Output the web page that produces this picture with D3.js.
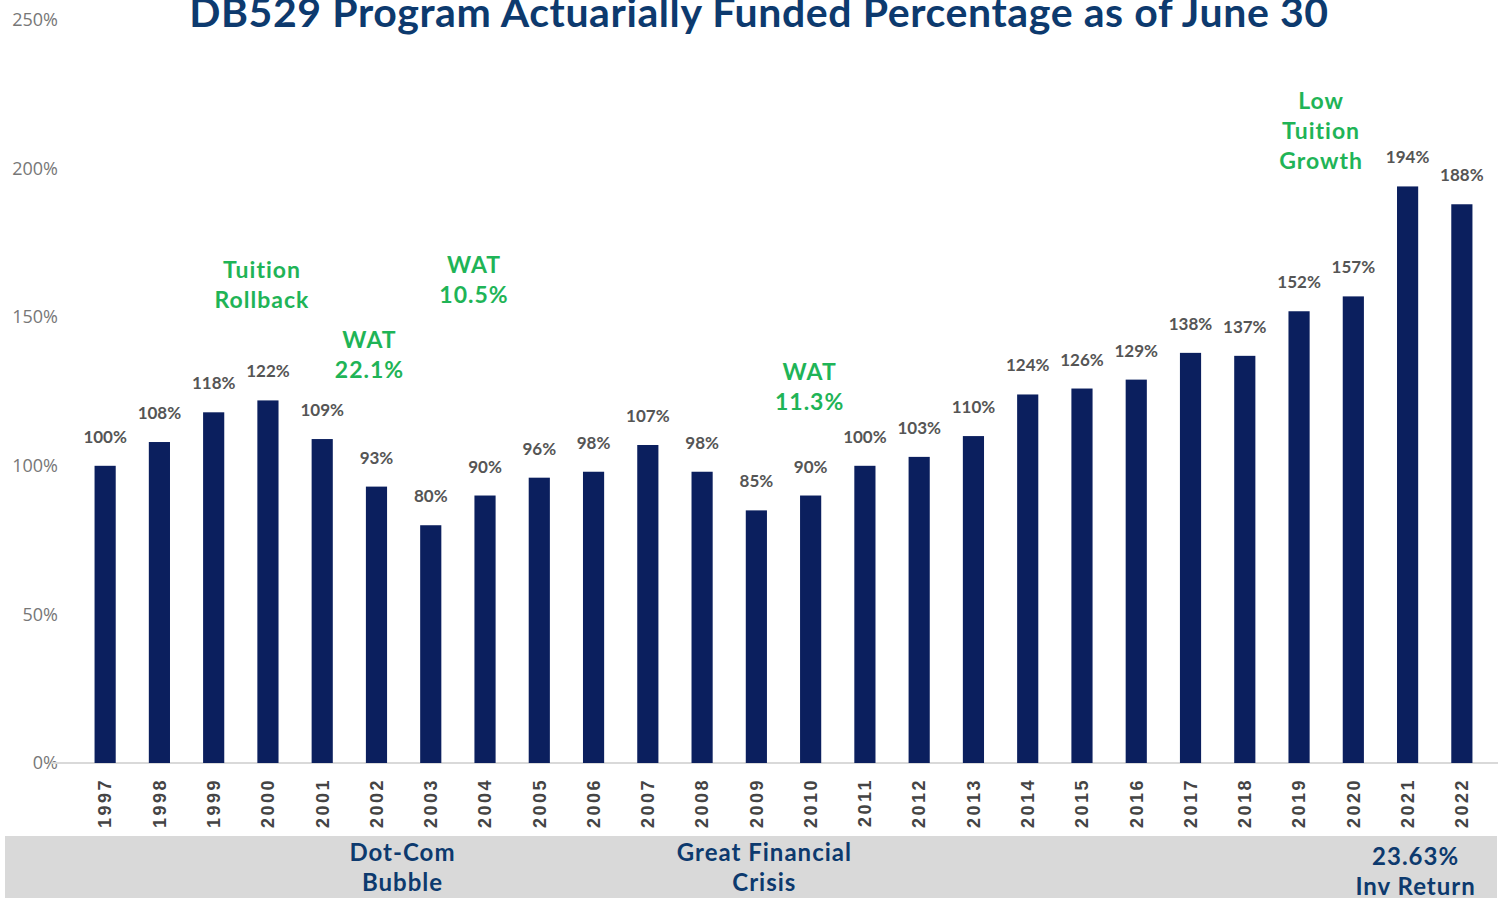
<!DOCTYPE html>
<html>
<head>
<meta charset="utf-8">
<script src="https://cdn.jsdelivr.net/npm/d3@7"></script>
<style>
  html, body { margin: 0; padding: 0; background: #fff; }
  svg { display: block; font-family: Lato, "Open Sans", sans-serif; }
</style>
</head>
<body>
<svg width="1510" height="898"></svg>
<script>
const years = ["1997","1998","1999","2000","2001","2002","2003","2004","2005","2006","2007","2008","2009",
    "2010","2011","2012","2013","2014","2015","2016","2017","2018","2019","2020","2021","2022"];
const funded = [100,108,118,122,109,93,80,90,96,98,107,98,85,90,100,103,110,124,126,129,138,137,152,157,194,188];
const yTicks = [0, 50, 100, 150, 200, 250];

// green notes above the bars, and event notes in the grey band
const notes = [
    { lines: ["Tuition", "Rollback"], year: "2000" },
    { lines: ["WAT", "22.1%"], year: "2002" },
    { lines: ["WAT", "10.5%"], year: "2004" },
    { lines: ["WAT", "11.3%"], year: "2010" },
    { lines: ["Low", "Tuition", "Growth"], year: "2019" }
];
const events = [
    { lines: ["Dot-Com", "Bubble"], year: "2002" },
    { lines: ["Great Financial", "Crisis"], year: "2009" },
    { lines: ["23.63%", "Inv Return"], year: "2021" }
];

const svg = d3.select("svg");
const navy = "#0b1f5e", green = "#1fb457", titleBlue = "#0d3a6e";

const x = d3.scaleBand()
    .domain(years)
    .range([78, 1489])
    .paddingInner(0.61)
    .paddingOuter(0.305);

const y = d3.scaleLinear()
    .domain([0, 250])
    .range([763, 20]);

// title (top edge clipped like the source)
svg.append("text")
    .attr("x", 759)
    .attr("y", 27)
    .attr("text-anchor", "middle")
    .style("font-size", "41px")
    .style("font-weight", "bold")
    .style("letter-spacing", "0.6px")
    .style("fill", titleBlue)
    .text("DB529 Program Actuarially Funded Percentage as of June 30");

// y axis labels
const yAxis = svg.append("g")
    .attr("transform", "translate(58,0)")
    .call(d3.axisLeft(y).tickValues(yTicks).tickFormat(d => d + "%").tickSize(0).tickPadding(0));
yAxis.select(".domain").remove();
yAxis.selectAll("text")
    .style("font-family", "'Open Sans', sans-serif")
    .style("font-size", "18px")
    .style("fill", "#777");

// baseline
svg.append("line")
    .attr("x1", 52).attr("x2", 1498)
    .attr("y1", y(0)).attr("y2", y(0))
    .attr("stroke", "#d9d9d9")
    .attr("stroke-width", 2);

// bars
svg.selectAll(".bar")
    .data(years)
    .enter()
    .append("rect")
    .attr("class", "bar")
    .attr("x", d => x(d))
    .attr("y", (d, i) => y(funded[i]))
    .attr("width", x.bandwidth())
    .attr("height", (d, i) => y(0) - y(funded[i]))
    .attr("fill", navy);

// value labels
svg.selectAll(".val")
    .data(years)
    .enter()
    .append("text")
    .attr("class", "val")
    .attr("x", d => x(d) + x.bandwidth() / 2)
    .attr("y", (d, i) => y(funded[i]) - 23)
    .attr("text-anchor", "middle")
    .style("font-size", "17px")
    .style("font-weight", "bold")
    .style("fill", "#555")
    .text((d, i) => funded[i] + "%");

// year labels, rotated
const xAxis = svg.append("g")
    .attr("transform", `translate(0,${y(0)})`)
    .call(d3.axisBottom(x).tickSize(0).tickPadding(0));
xAxis.select(".domain").remove();
xAxis.selectAll("text")
    .attr("transform", "rotate(-90)")
    .attr("x", -15)
    .attr("y", 0)
    .attr("dy", "0.35em")
    .style("text-anchor", "end")
    .style("font-size", "18px")
    .style("font-weight", "bold")
    .style("fill", "#444")
    .style("letter-spacing", "2.5px");

// green notes
const noteShift = { "2000": -6, "2002": -7, "2004": -11, "2010": -1, "2019": 22 };
const noteTop = { "2000": 270, "2002": 340, "2004": 265, "2010": 372, "2019": 101 };
notes.forEach(n => {
    const t = svg.append("text")
        .attr("text-anchor", "middle")
        .style("font-size", "23px")
        .style("font-weight", "bold")
        .style("letter-spacing", "1px")
        .style("fill", green);
    n.lines.forEach((l, j) => {
        t.append("tspan")
            .attr("x", x(n.year) + x.bandwidth() / 2 + noteShift[n.year])
            .attr("y", noteTop[n.year] + j * 30)
            .attr("dy", "0.35em")
            .text(l);
    });
});

// grey event band
svg.append("rect")
    .attr("x", 5).attr("y", 836)
    .attr("width", 1492).attr("height", 62)
    .attr("fill", "#d9d9d9");

const eventShift = { "2002": 26, "2009": 8, "2021": 8 };
const eventTop = { "2002": 853, "2009": 853, "2021": 857 };
events.forEach(e => {
    const t = svg.append("text")
        .attr("text-anchor", "middle")
        .style("font-size", "24px")
        .style("font-weight", "bold")
        .style("letter-spacing", "1px")
        .style("fill", titleBlue);
    e.lines.forEach((l, j) => {
        t.append("tspan")
            .attr("x", x(e.year) + x.bandwidth() / 2 + eventShift[e.year])
            .attr("y", eventTop[e.year] + j * 30)
            .attr("dy", "0.35em")
            .text(l);
    });
});
</script>
</body>
</html>
